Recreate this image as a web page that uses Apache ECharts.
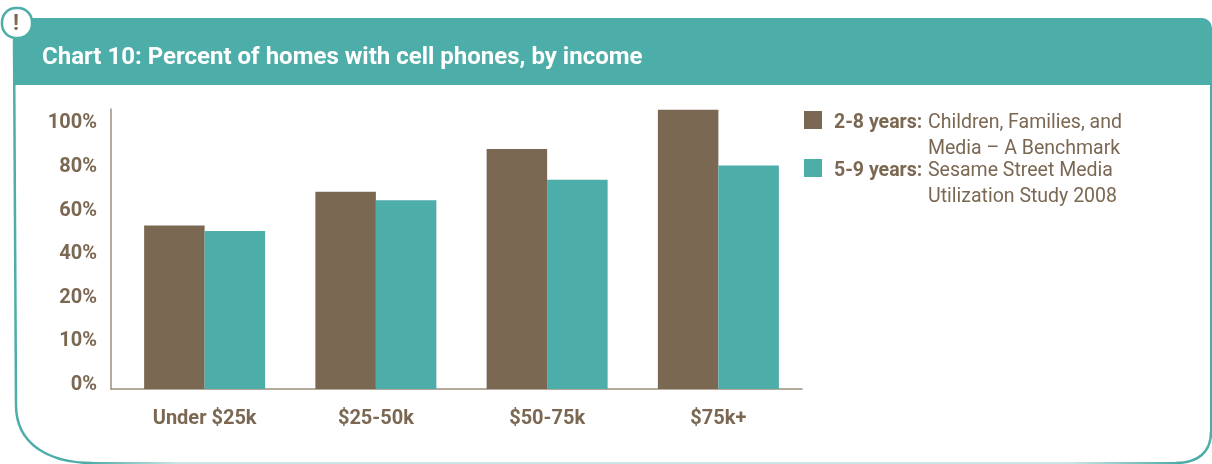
<!DOCTYPE html>
<html>
<head>
<meta charset="utf-8">
<style>
  html, body { margin: 0; padding: 0; background: #fff; }
  #chart { width: 1212px; height: 464px; }
</style>
<script src="https://cdn.jsdelivr.net/npm/echarts@6/dist/echarts.min.js"></script>
</head>
<body>
<div id="chart"></div>
<script>
const categories = ['Under $25k', '$25-50k', '$50-75k', '$75k+'];
const values2to8 = [55, 70.5, 90, 108];
const values5to9 = [52.5, 66.5, 76, 82.5];
// the printed axis is uneven: 0, 10, 20 then steps of 20, all equally spaced
const tickValues = [0, 10, 20, 40, 60, 80, 100];
const tickLabels = ['0%', '10%', '20%', '40%', '60%', '80%', '100%'];
const name2to8 = '2-8 years:';
const name5to9 = '5-9 years:';
const source2to8 = ['Children, Families, and', 'Media \u2013 A Benchmark'];
const source5to9 = ['Sesame Street Media', 'Utilization Study 2008'];

const TEAL = '#4dada8';
const BROWN = '#7b6853';
const AXIS = '#9c8e7e';
const FONT = 'Roboto, sans-serif';

// percent -> position on the uneven printed axis
function toStep(v) {
  for (let i = tickValues.length - 2; i >= 0; i--) {
    if (v >= tickValues[i]) {
      return i + (v - tickValues[i]) / (tickValues[i + 1] - tickValues[i]);
    }
  }
  return 0;
}

const chart = echarts.init(document.getElementById('chart'));

const frameLine = { stroke: TEAL, lineWidth: 2.5, fill: null };

chart.setOption({
  animation: false,
  backgroundColor: '#fff',
  textStyle: { fontFamily: FONT },
  legend: {
    orient: 'vertical',
    left: 804,
    top: 111,
    padding: 0,
    itemWidth: 18,
    itemHeight: 18,
    itemGap: 26,
    icon: 'rect',
    selectedMode: false,
    data: [name2to8, name5to9],
    formatter: function (name) {
      const src = name === name2to8 ? source2to8[0] : source5to9[0];
      return '{b|' + name + '}{r|' + src + '}';
    },
    textStyle: {
      rich: {
        b: { fontFamily: FONT, fontWeight: 700, fontSize: 19.5, color: BROWN, width: 94, height: 24, padding: [6, 0, 0, 7] },
        r: { fontFamily: FONT, fontWeight: 400, fontSize: 19.5, color: BROWN, height: 24, padding: [6, 0, 0, 0] }
      }
    }
  },
  grid: [
    { left: 119, width: 685, top: 109, height: 280 },
    { left: 111, width: 691, top: 109, height: 280 }
  ],
  xAxis: [
    {
      type: 'category',
      gridIndex: 0,
      data: categories,
      axisLine: { show: false },
      axisTick: { show: false },
      axisLabel: { margin: 20, fontFamily: FONT, fontWeight: 700, fontSize: 20, color: BROWN }
    },
    {
      type: 'category',
      gridIndex: 1,
      data: [],
      axisLine: { lineStyle: { color: AXIS, width: 1.5 } },
      axisTick: { show: false },
      axisLabel: { show: false }
    }
  ],
  yAxis: [
    {
      type: 'value',
      gridIndex: 0,
      min: 0,
      max: 6.42,
      interval: 1,
      offset: 8,
      splitLine: { show: false },
      axisTick: { show: false },
      axisLine: { show: true, lineStyle: { color: AXIS, width: 1.5 } },
      axisLabel: {
        margin: 14,
        verticalAlign: 'bottom',
        lineHeight: 8,
        fontFamily: FONT,
        fontWeight: 700,
        fontSize: 20,
        color: BROWN,
        formatter: function (v) { return tickLabels[v] || ''; }
      }
    },
    { type: 'value', gridIndex: 1, show: false }
  ],
  series: [
    {
      name: name2to8,
      type: 'bar',
      barWidth: 60.5,
      barGap: 0,
      itemStyle: { color: BROWN },
      data: values2to8.map(toStep)
    },
    {
      name: name5to9,
      type: 'bar',
      barWidth: 60.5,
      barGap: 0,
      itemStyle: { color: TEAL },
      data: values5to9.map(toStep)
    }
  ],
  graphic: [
    // frame
    { type: 'line', shape: { x1: 14, y1: 40, x2: 16, y2: 405 }, style: frameLine },
    { type: 'bezierCurve', shape: { x1: 16, y1: 405, cpx1: 16, cpy1: 445, cpx2: 50, cpy2: 463, x2: 92, y2: 463 }, style: frameLine },
    {
      type: 'line',
      shape: { x1: 92, y1: 463, x2: 1176, y2: 463 },
      style: {
        lineWidth: 2,
        stroke: new echarts.graphic.LinearGradient(0, 0, 1, 0, [
          { offset: 0, color: TEAL },
          { offset: 0.08, color: '#c9e6e4' },
          { offset: 0.9, color: '#c9e6e4' },
          { offset: 1, color: TEAL }
        ], false)
      }
    },
    { type: 'line', shape: { x1: 1211, y1: 80, x2: 1211, y2: 432 }, style: { stroke: TEAL, lineWidth: 2, fill: null } },
    { type: 'bezierCurve', shape: { x1: 1211, y1: 432, cpx1: 1211, cpy1: 452, cpx2: 1198, cpy2: 463, x2: 1176, y2: 463 }, style: frameLine },
    // header band
    { type: 'rect', shape: { x: 13, y: 18, width: 1199, height: 67, r: [12, 10, 0, 0] }, style: { fill: TEAL } },
    { type: 'text', x: 42, y: 58, style: { text: 'Chart 10: Percent of homes with cell phones, by income', fill: '#fff', font: '700 24px ' + FONT, verticalAlign: 'middle' } },
    // badge
    { type: 'rect', shape: { x: 2, y: 8, width: 30, height: 30, r: 14 }, style: { fill: '#fff', stroke: TEAL, lineWidth: 2.5 } },
    { type: 'text', x: 16, y: 24, style: { text: '!', fill: BROWN, font: '700 22px ' + FONT, align: 'center', verticalAlign: 'middle' } },
    // legend continuation lines
    { type: 'text', x: 928, y: 149, style: { text: source2to8[1], fill: BROWN, font: '400 19.5px ' + FONT, verticalAlign: 'middle' } },
    { type: 'text', x: 928, y: 197, style: { text: source5to9[1], fill: BROWN, font: '400 19.5px ' + FONT, verticalAlign: 'middle' } }
  ]
});
</script>
</body>
</html>
